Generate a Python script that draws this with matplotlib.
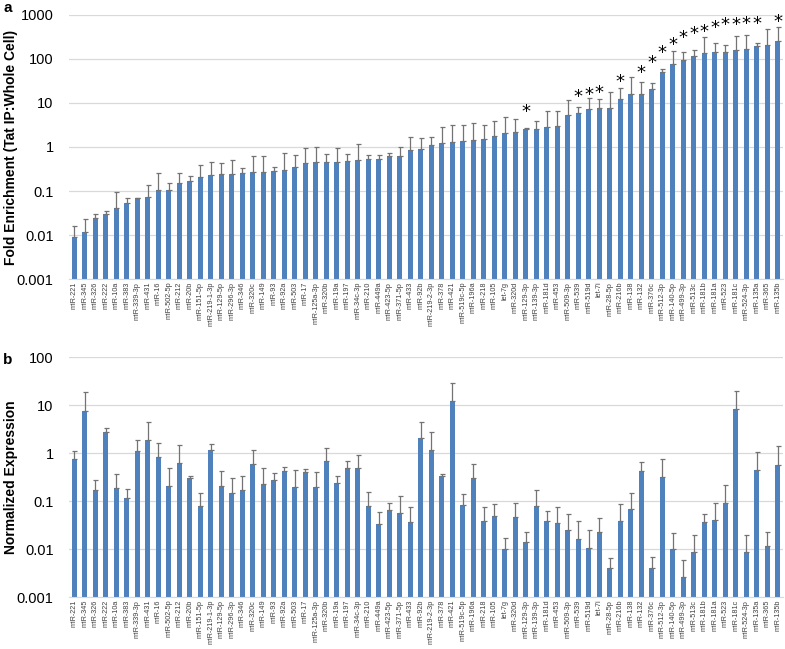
import matplotlib
matplotlib.use("Agg")
import matplotlib.pyplot as plt
import numpy as np

plt.rcParams["font.family"] = ["Liberation Sans", "DejaVu Sans"]

labels = [
    "miR-221", "miR-345", "miR-326", "miR-222", "miR-10a", "miR-383", "miR-339-3p",
    "miR-431", "miR-16", "miR-502-5p", "miR-212", "miR-20b", "miR-151-5p",
    "miR-219-1-3p", "miR-129-5p", "miR-296-3p", "miR-346", "miR-320c", "miR-149",
    "miR-93", "miR-92a", "miR-503", "miR-17", "miR-125a-3p", "miR-320b", "miR-19a",
    "miR-197", "miR-34c-3p", "miR-210", "miR-449a", "miR-423-5p", "miR-371-5p",
    "miR-433", "miR-92b", "miR-219-2-3p", "miR-378", "miR-421", "miR-519c-5p",
    "miR-196a", "miR-218", "miR-105", "let-7g", "miR-320d", "miR-129-3p",
    "miR-139-3p", "miR-181d", "miR-453", "miR-509-3p", "miR-539", "miR-519d",
    "let-7i", "miR-28-5p", "miR-216b", "miR-138", "miR-132", "miR-376c",
    "miR-512-3p", "miR-140-5p", "miR-499-3p", "miR-513c", "miR-181b", "miR-181a",
    "miR-523", "miR-181c", "miR-524-3p", "miR-135a", "miR-365", "miR-135b",
]

# panel a: fold enrichment and top of error bar
enrich = [
    0.0092, 0.012, 0.024, 0.030, 0.042, 0.052, 0.068, 0.074, 0.105, 0.105,
    0.155, 0.166, 0.21, 0.23, 0.24, 0.24, 0.26, 0.27, 0.27, 0.28,
    0.30, 0.36, 0.43, 0.45, 0.46, 0.46, 0.47, 0.50, 0.53, 0.53,
    0.63, 0.63, 0.84, 0.90, 1.13, 1.25, 1.32, 1.35, 1.44, 1.5,
    1.8, 2.1, 2.15, 2.6, 2.6, 2.8, 3.0, 5.3, 6.0, 7.2,
    7.6, 7.8, 12.3, 15.7, 16, 21, 50, 76, 95, 117,
    134, 147, 147, 160, 166, 197, 207, 260,
]
enrich_top = [
    0.016, 0.023, 0.030, 0.035, 0.093, 0.070, 0.069, 0.137, 0.25, 0.15,
    0.26, 0.22, 0.40, 0.46, 0.43, 0.50, 0.34, 0.63, 0.63, 0.35,
    0.72, 0.67, 0.97, 0.98, 0.69, 0.97, 0.69, 1.2, 0.66, 0.66,
    0.74, 1.0, 1.7, 1.6, 1.7, 2.8, 3.1, 3.2, 3.45, 3.1,
    3.8, 4.9, 4.3, 2.7, 4.0, 6.5, 6.5, 12, 8.0, 13,
    12.5, 18, 22, 38, 30, 29, 60, 155, 142, 160,
    320, 227, 212, 333, 350, 227, 490, 526,
]
# significance stars: bar index and height of the star
star_idx = [43, 48, 49, 50, 52, 54, 55, 56, 57, 58, 59, 60, 61, 62, 63, 64, 65, 67]
star_y = [7.6, 17, 19, 21, 38, 61, 103, 166, 260, 382, 471, 518, 626, 730, 742, 770, 770, 840]

# panel b: normalized expression and top of error bar
expr = [
    0.75, 7.6, 0.17, 2.8, 0.19, 0.115, 1.12, 1.9, 0.84, 0.21,
    0.62, 0.30, 0.080, 1.14, 0.21, 0.147, 0.17, 0.58, 0.23, 0.28,
    0.43, 0.20, 0.41, 0.196, 0.68, 0.24, 0.49, 0.49, 0.08, 0.033,
    0.065, 0.057, 0.037, 2.1, 1.15, 0.33, 12.3, 0.081, 0.30, 0.039,
    0.049, 0.010, 0.047, 0.014, 0.079, 0.039, 0.035, 0.025, 0.016, 0.0107,
    0.0226, 0.0040, 0.038, 0.069, 0.43, 0.0040, 0.31, 0.0098, 0.0026, 0.0088,
    0.037, 0.040, 0.089, 8.4, 0.0086, 0.44, 0.0115, 0.57,
]
expr_top = [
    1.08, 18.7, 0.28, 3.3, 0.37, 0.175, 1.9, 4.4, 1.64, 0.48,
    1.45, 0.34, 0.15, 1.56, 0.43, 0.30, 0.33, 1.14, 0.49, 0.38,
    0.50, 0.44, 0.46, 0.40, 1.27, 0.33, 0.68, 0.89, 0.155, 0.058,
    0.089, 0.125, 0.074, 4.4, 2.7, 0.36, 29, 0.138, 0.59, 0.076,
    0.085, 0.017, 0.091, 0.0225, 0.172, 0.063, 0.074, 0.054, 0.038, 0.025,
    0.044, 0.0066, 0.085, 0.149, 0.64, 0.0068, 0.74, 0.022, 0.006, 0.020,
    0.054, 0.089, 0.216, 20, 0.020, 1.07, 0.0225, 1.4,
]

BAR = "#4f81bd"
ERR = "#737373"
GRID = "#d9d9d9"
TXT = "#404040"


def draw_panel(ax, values, tops, ylim, ticks, tick_labels, ylabel):
    x = np.arange(len(labels))
    vals = np.asarray(values)
    upper = np.asarray(tops) - vals
    ax.bar(x, vals, width=0.45, color=BAR, zorder=2)
    ax.errorbar(x, vals, yerr=[np.zeros_like(vals), upper], fmt="none",
                ecolor=ERR, elinewidth=0.9, capsize=1.8, capthick=0.9, zorder=3)
    ax.set_yscale("log")
    ax.set_ylim(*ylim)
    ax.set_xlim(-0.5, len(labels) - 0.5)
    ax.set_yticks(ticks)
    ax.set_yticklabels(tick_labels, fontsize=10.5, color="black")
    ax.minorticks_off()
    ax.yaxis.grid(True, color=GRID, linewidth=0.9, zorder=0)
    ax.set_axisbelow(True)
    ax.set_xticks(x)
    ax.set_xticklabels(labels, rotation=90, fontsize=5.2, color=TXT)
    ax.tick_params(axis="x", length=0, pad=2)
    ax.tick_params(axis="y", length=0, pad=11)
    for side in ["top", "right", "left"]:
        ax.spines[side].set_visible(False)
    ax.spines["bottom"].set_color(GRID)
    ax.set_ylabel(ylabel, fontsize=10, fontweight="bold")
    ax.yaxis.set_label_coords(-0.071, 0.5)


fig = plt.figure(figsize=(7.85, 6.49), dpi=100)
ax_a = fig.add_axes([0.0879, 0.5701, 0.9096, 0.4068])
ax_b = fig.add_axes([0.0879, 0.0801, 0.9096, 0.3698])

draw_panel(ax_a, enrich, enrich_top, (0.001, 1000),
           [0.001, 0.01, 0.1, 1, 10, 100, 1000],
           ["0.001", "0.01", "0.1", "1", "10", "100", "1000"],
           "Fold Enrichment (Tat IP:Whole Cell)")
for i, y in zip(star_idx, star_y):
    ax_a.annotate("*", (i, y), xytext=(0, -3), textcoords="offset points",
                  ha="center", va="center", fontsize=13,
                  family="DejaVu Sans", annotation_clip=False)

draw_panel(ax_b, expr, expr_top, (0.001, 100),
           [0.001, 0.01, 0.1, 1, 10, 100],
           ["0.001", "0.01", "0.1", "1", "10", "100"],
           "Normalized Expression")

fig.text(0.004, 0.998, "a", fontsize=11, fontweight="bold", va="top")
fig.text(0.004, 0.456, "b", fontsize=11, fontweight="bold", va="top")

fig.savefig("out.png", dpi=100)
